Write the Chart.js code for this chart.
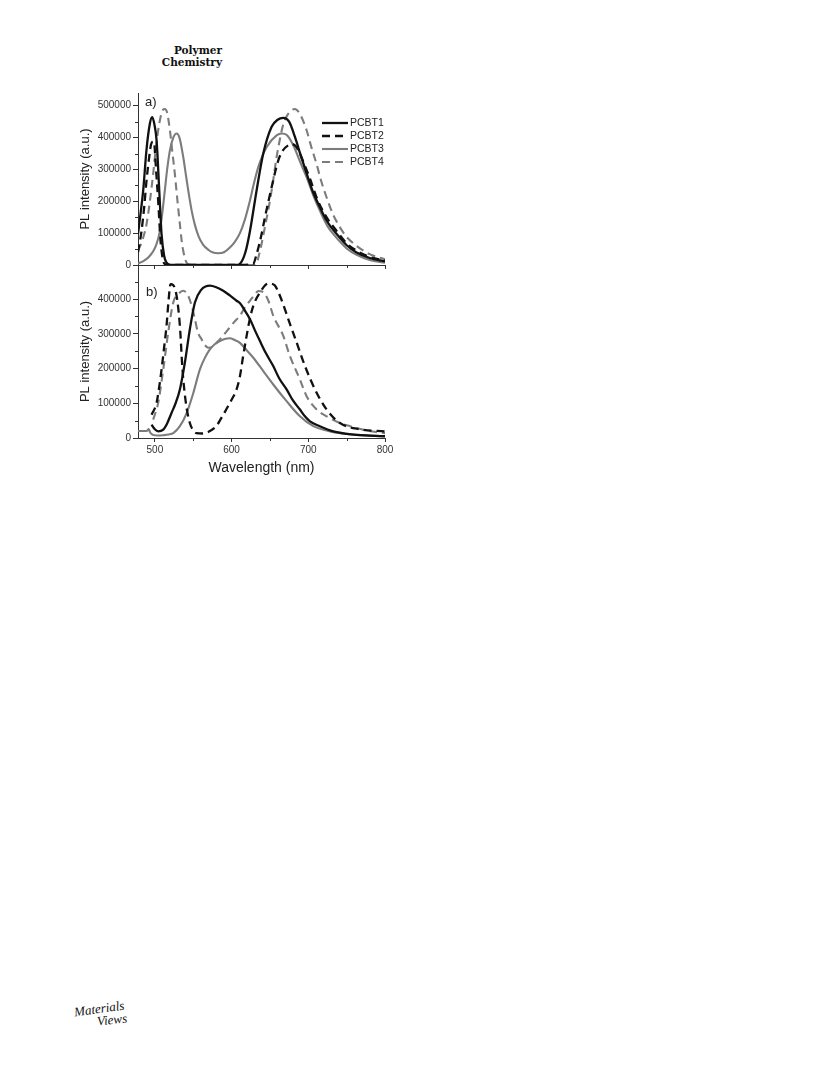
<!DOCTYPE html>
<html>
<head>
<meta charset="utf-8">
<script src="https://cdn.jsdelivr.net/npm/chart.js@4.4.1/dist/chart.umd.min.js"></script>
<style>
  html, body { margin: 0; padding: 0; background: #fff; }
  body { width: 816px; height: 1079px; position: relative; overflow: hidden; }
  canvas { position: absolute; }
  #chartA { left: 60px; top: 80px; }
  #chartB { left: 60px; top: 255px; }
  .journal { position: absolute; left: 120px; width: 102px; top: 45px; text-align: right;
    font-family: "DejaVu Serif", serif; font-weight: bold; font-size: 10.5px; line-height: 11.5px; color: #111; }
  .logo { position: absolute; font-family: "Liberation Serif", serif; font-style: italic; font-size: 13px; color: #111; }
</style>
</head>
<body>
<div class="journal">Polymer<br>Chemistry</div>
<div class="logo" style="left:74px; top:1001px; transform: rotate(-8deg);">Materials</div>
<div class="logo" style="left:97px; top:1012px; transform: rotate(-6deg);">Views</div>
<canvas id="chartA" width="340" height="200"></canvas>
<canvas id="chartB" width="340" height="230"></canvas>
<script>
// ---------- data ----------
const seriesNames = ['PCBT1', 'PCBT2', 'PCBT3', 'PCBT4'];
const xTicks = [500, 600, 700, 800];
const xMinorTicks = [550, 650, 750];
const aYTicks = [0, 100000, 200000, 300000, 400000, 500000];
const aYMinorTicks = [50000, 150000, 250000, 350000, 450000];
const bYTicks = [0, 100000, 200000, 300000, 400000];
const bYMinorTicks = [50000, 150000, 250000, 350000, 450000];

// Panel a)
const aPCBT1x = [478, 481.5, 484.8, 489, 493.5, 496.5, 499.5, 502.2, 505.7, 508.7, 512, 515.2, 520, 560, 606, 611, 618, 624, 632.6, 641.3, 652.2, 660, 667.4, 675, 682.6, 690, 698, 706, 715.2, 725, 737, 750, 763, 780, 800];
const aPCBT1y = [97000, 165000, 234000, 360000, 444000, 464000, 440000, 392000, 234000, 97000, 30000, 7300, 0, 0, 0, 4000, 40000, 107000, 234000, 350000, 434000, 456000, 462000, 450000, 402000, 345000, 286000, 230000, 181000, 135000, 97000, 62000, 39000, 22000, 11000];
const aPCBT2x = [478, 482.6, 486, 489.1, 492.6, 495, 497.8, 499.5, 501.3, 504.3, 507.4, 510.9, 514, 520, 600, 628, 632.6, 638, 643.5, 652.2, 660.9, 667, 673.9, 678, 684, 689, 695, 702.2, 712, 723.9, 736.9, 750, 763, 780, 800];
const aPCBT2y = [40000, 107000, 180000, 265000, 339000, 378000, 388000, 375000, 307000, 202000, 76000, 12600, 2000, 0, 0, 3000, 33700, 85000, 149500, 244000, 328600, 360000, 376000, 380000, 372000, 350000, 315000, 270800, 205000, 149500, 107000, 68000, 45000, 25000, 14000];
const aPCBT3x = [478, 485, 492, 498, 502, 505.7, 509, 513, 516, 519.6, 524, 528.3, 532, 537, 540, 543.5, 548, 552.2, 557, 563, 570, 576, 582.6, 590, 597.8, 604, 610.9, 617, 623.9, 629, 634.8, 645.6, 658.7, 665.2, 672, 680.4, 690, 697.8, 706, 715.2, 725, 736.9, 750, 763, 780, 800];
const aPCBT3y = [5000, 12000, 25000, 44000, 65000, 97000, 150000, 234000, 300000, 360000, 400000, 413000, 400000, 339000, 290000, 234000, 170000, 126000, 90000, 63000, 47000, 39000, 37000, 40000, 55000, 72000, 100000, 140000, 202000, 255000, 307500, 370000, 407000, 413000, 408000, 376000, 320000, 276000, 222000, 170000, 122000, 85000, 52000, 32000, 16000, 7000];
const aPCBT4x = [478, 484, 489.1, 493.5, 497.8, 501, 504.3, 508, 510.5, 513, 516, 519.6, 523, 526, 529.5, 532.6, 535, 537, 541.3, 545, 550, 600, 631, 637, 643.5, 650, 654.5, 658.7, 663, 667.4, 674, 682.6, 690, 697.8, 704, 710.9, 717, 723.9, 732, 741.3, 750, 763, 780, 800];
const aPCBT4y = [44000, 80000, 128000, 200000, 286600, 360000, 423000, 470000, 487000, 490000, 478000, 423000, 350000, 286600, 200000, 128000, 75000, 44000, 7000, 1000, 0, 0, 0, 44000, 120000, 202000, 270000, 339000, 395000, 442000, 475000, 490000, 470000, 423000, 370000, 316000, 262000, 212000, 160000, 118000, 88000, 60000, 34000, 18000];

// Panel b)
const bPCBT1x = [495.7, 500, 504.3, 510.9, 516, 521.7, 527, 532.6, 539.1, 545.6, 552.2, 560.9, 566, 571.7, 580, 589.1, 598, 606.5, 611, 617, 624, 630, 637, 645, 654.3, 662, 671.7, 680, 689.1, 695, 702.2, 715, 732.6, 750, 763, 780, 800];
const bPCBT1y = [38500, 25000, 19000, 24000, 42000, 72000, 100000, 139700, 217000, 313000, 390000, 428000, 436000, 438500, 434000, 424000, 410000, 395000, 388000, 368000, 342000, 312000, 279000, 243000, 207000, 172000, 140000, 108000, 82000, 64000, 48000, 34000, 19000, 12000, 9000, 7000, 5000];
const bPCBT2x = [495.7, 502.2, 505.5, 508.7, 512, 515.2, 518, 520.4, 524, 528.3, 532.6, 536, 540.4, 545.6, 550, 554.3, 562, 570, 580, 586, 593, 600, 606.5, 610.9, 615, 619.6, 624, 628.3, 637, 648, 656, 663, 668, 673.9, 684.8, 695.7, 708.7, 723.9, 741.3, 767.4, 800];
const bPCBT2y = [67000, 101000, 145000, 197000, 260000, 323000, 400000, 443000, 440000, 409500, 323000, 197000, 101000, 43000, 22000, 14000, 13000, 18000, 34000, 55000, 82000, 110000, 140000, 178000, 235000, 294000, 345000, 380600, 419000, 445000, 440000, 409500, 380000, 342000, 275000, 207000, 140000, 82000, 43000, 25000, 19000];
const bPCBT3x = [478, 485, 490, 492, 494, 497.8, 504, 510.9, 518, 524, 532.6, 541.3, 550, 558.7, 565, 571.7, 578, 584.8, 591, 597.8, 604, 610.9, 620, 628.3, 641.3, 654.3, 671.7, 689.1, 706.5, 728.3, 763, 800];
const bPCBT3y = [20000, 20000, 21000, 26000, 15000, 9000, 7000, 8000, 10000, 14000, 34000, 71000, 129000, 197500, 230000, 255000, 270000, 279000, 285000, 287000, 282000, 274000, 252000, 231000, 192600, 154000, 106000, 62500, 34000, 19000, 9000, 5000];
const bPCBT4x = [497.8, 504.3, 510.9, 517.4, 524, 530.4, 537, 543.5, 548, 552.2, 556, 560.9, 565, 569.6, 575, 582.6, 589, 595.7, 603, 610.9, 617, 623.9, 630, 635, 641, 648, 654.3, 667.4, 676, 689.1, 697.8, 710.9, 723.9, 741.3, 754.3, 775, 800];
const bPCBT4y = [53000, 101000, 197000, 304000, 390000, 414000, 424000, 409000, 380000, 342000, 305000, 284000, 268000, 260000, 262000, 279000, 295000, 313000, 333000, 352000, 375000, 395000, 412000, 423000, 420000, 395000, 352000, 294000, 236000, 168600, 120300, 82000, 62500, 43000, 34000, 22000, 14000];

// ---------- styles ----------
const BLACK = '#111111';
const GRAY = '#7c7c7c';
const seriesStyle = [
  { color: BLACK, dash: [], width: 2.3 },
  { color: BLACK, dash: [8, 5], width: 2.3 },
  { color: GRAY, dash: [], width: 2.1 },
  { color: GRAY, dash: [8, 5], width: 2.1 }
];
const FONT = '"Liberation Sans", Arial, sans-serif';

function pts(xs, ys) { return xs.map((x, i) => ({ x: x, y: ys[i] })); }
function makeDatasets(list) {
  return list.map((d, i) => ({
    label: seriesNames[i],
    data: pts(d[0], d[1]),
    borderColor: seriesStyle[i].color,
    borderDash: seriesStyle[i].dash,
    borderWidth: seriesStyle[i].width,
    pointRadius: 0,
    fill: false,
    cubicInterpolationMode: 'monotone'
  }));
}

const innerLegend = {
  id: 'innerLegend',
  afterDraw(chart, args, opts) {
    if (!opts.show) return;
    const ctx = chart.ctx, a = chart.chartArea;
    chart.data.datasets.forEach((ds, i) => {
      const y = a.top + opts.top + i * opts.gap;
      ctx.save();
      ctx.strokeStyle = ds.borderColor;
      ctx.lineWidth = ds.borderWidth;
      ctx.setLineDash(ds.borderDash || []);
      ctx.beginPath();
      ctx.moveTo(a.right - 63, y);
      ctx.lineTo(a.right - 37, y);
      ctx.stroke();
      ctx.setLineDash([]);
      ctx.fillStyle = '#222';
      ctx.font = '10.5px ' + FONT;
      ctx.textBaseline = 'middle';
      ctx.fillText(ds.label, a.right - 35, y + 0.5);
      ctx.restore();
    });
  }
};
const panelLabel = {
  id: 'panelLabel',
  afterDraw(chart, args, opts) {
    const ctx = chart.ctx, a = chart.chartArea;
    ctx.save();
    ctx.fillStyle = '#222';
    ctx.font = '13px ' + FONT;
    ctx.textBaseline = 'middle';
    ctx.fillText(opts.text, a.left + opts.dx, a.top + opts.dy);
    ctx.restore();
  }
};
const minorTicks = {
  id: 'minorTicks',
  afterDraw(chart, args, opts) {
    const ctx = chart.ctx, xs = chart.scales.x, ys = chart.scales.y;
    ctx.save();
    ctx.strokeStyle = '#333';
    ctx.lineWidth = 1;
    ctx.beginPath();
    opts.x.forEach(v => {
      const px = Math.round(xs.getPixelForValue(v)) + 0.5;
      ctx.moveTo(px, xs.top); ctx.lineTo(px, xs.top + 3);
    });
    opts.y.filter(v => v <= ys.max).forEach(v => {
      const py = Math.round(ys.getPixelForValue(v)) + 0.5;
      ctx.moveTo(ys.right - 3, py); ctx.lineTo(ys.right, py);
    });
    ctx.stroke();
    ctx.restore();
  }
};

function axisCommon() {
  return {
    grid: { drawOnChartArea: false, drawTicks: true, tickLength: 4, color: '#333', lineWidth: 1 },
    border: { display: true, color: '#333', width: 1 }
  };
}

function buildChart(id, opts) {
  const xAxis = Object.assign(axisCommon(), {
    type: 'linear', min: 478, max: 800,
    afterBuildTicks: s => { s.ticks = xTicks.map(v => ({ value: v })); },
    afterFit: s => { s.height = opts.xHeight; },
    ticks: {
      autoSkip: false, maxRotation: 0, padding: 2,
      color: '#333', font: { family: FONT, size: 10 },
      callback: v => opts.xLabels ? String(v) : ''
    },
    title: opts.xTitle ? { display: true, text: 'Wavelength (nm)', color: '#222',
      font: { family: FONT, size: 14 }, padding: { top: 2, bottom: 8 } } : { display: false }
  });
  const yAxis = Object.assign(axisCommon(), {
    type: 'linear', min: 0, max: opts.yMax,
    afterBuildTicks: s => { s.ticks = opts.yTicks.map(v => ({ value: v })); },
    afterFit: s => { s.width = 78; },
    ticks: { autoSkip: false, padding: 2, color: '#333', font: { family: FONT, size: 10 },
      callback: v => String(v) },
    title: { display: true, text: 'PL intensity (a.u.)', color: '#222',
      font: { family: FONT, size: 13 }, padding: { top: 18, bottom: 0 } }
  });
  yAxis.grid = Object.assign({}, yAxis.grid, { tickLength: 5 });
  return new Chart(document.getElementById(id), {
    type: 'line',
    data: { datasets: makeDatasets(opts.series) },
    options: {
      responsive: false, animation: false, devicePixelRatio: 1,
      layout: { padding: { top: opts.padTop, right: 15, left: 0, bottom: 0 } },
      scales: { x: xAxis, y: yAxis },
      plugins: {
        legend: { display: false }, tooltip: { enabled: false },
        innerLegend: { show: opts.legend, top: 30, gap: 13 },
        panelLabel: opts.label,
        minorTicks: { x: xMinorTicks, y: opts.yMinor }
      }
    },
    plugins: [innerLegend, panelLabel, minorTicks]
  });
}

buildChart('chartA', {
  series: [[aPCBT1x, aPCBT1y], [aPCBT2x, aPCBT2y], [aPCBT3x, aPCBT3y], [aPCBT4x, aPCBT4y]],
  yMax: 540000, yTicks: aYTicks, yMinor: aYMinorTicks,
  xHeight: 15, xLabels: false, xTitle: false, padTop: 13, legend: true,
  label: { text: 'a)', dx: 7, dy: 9 }
});
buildChart('chartB', {
  series: [[bPCBT1x, bPCBT1y], [bPCBT2x, bPCBT2y], [bPCBT3x, bPCBT3y], [bPCBT4x, bPCBT4y]],
  yMax: 498000, yTicks: bYTicks, yMinor: bYMinorTicks,
  xHeight: 47, xLabels: true, xTitle: true, padTop: 10, legend: false,
  label: { text: 'b)', dx: 8, dy: 27 }
});
</script>
</body>
</html>
